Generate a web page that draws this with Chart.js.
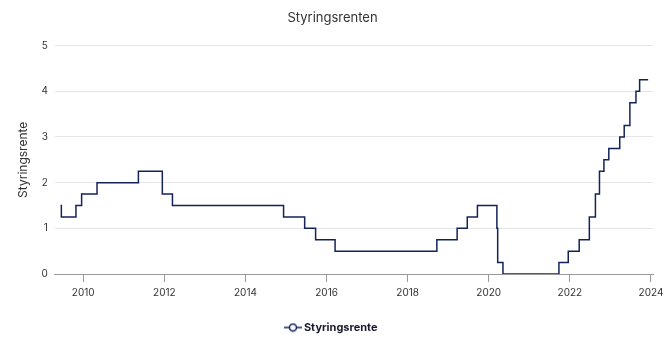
<!DOCTYPE html>
<html lang="no">
<head>
<meta charset="UTF-8">
<title>Styringsrenten</title>
<script src="https://cdn.jsdelivr.net/npm/chart.js"></script>
<style>
  html, body { margin: 0; padding: 0; background: #fff; }
  #wrap { width: 672px; height: 354px; }
</style>
</head>
<body>
<div id="wrap"><canvas id="rateChart"></canvas></div>
<script>
// datoer for rentebeslutninger (desimalår) og ny rente
const dates = [2009.44, 2009.46, 2009.82, 2009.96, 2010.34, 2011.36, 2011.95, 2012.20,
  2014.94, 2015.46, 2015.73, 2016.21, 2018.72, 2019.22, 2019.47, 2019.72,
  2020.20, 2020.22, 2020.35, 2021.73, 2021.96, 2022.23, 2022.48, 2022.63,
  2022.73, 2022.84, 2022.96, 2023.23, 2023.34, 2023.48, 2023.63, 2023.72, 2023.93];
const rates = [1.5, 1.25, 1.5, 1.75, 2.0, 2.25, 1.75, 1.5,
  1.25, 1.0, 0.75, 0.5, 0.75, 1.0, 1.25, 1.5,
  1.0, 0.25, 0, 0.25, 0.5, 0.75, 1.25, 1.75,
  2.25, 2.5, 2.75, 3.0, 3.25, 3.75, 4.0, 4.25, 4.25];
const xTicks = [2010, 2012, 2014, 2016, 2018, 2020, 2022, 2024];
const yTicks = [0, 1, 2, 3, 4, 5];

const lineColor = '#13235a';

// legendesymbol: strek med ring
const icon = document.createElement('canvas');
icon.width = 18; icon.height = 10;
const ic = icon.getContext('2d');
ic.strokeStyle = lineColor;
ic.lineWidth = 1.5;
ic.beginPath(); ic.moveTo(0, 5); ic.lineTo(18, 5); ic.stroke();
ic.fillStyle = '#fff';
ic.beginPath(); ic.arc(9, 5, 3.5, 0, Math.PI * 2); ic.fill(); ic.stroke();

new Chart(document.getElementById('rateChart'), {
  type: 'line',
  data: {
    datasets: [{
      label: 'Styringsrente',
      data: dates.map((d, i) => ({ x: d, y: rates[i] })),
      borderColor: lineColor,
      backgroundColor: '#fff',
      borderWidth: 1.5,
      stepped: true,
      pointRadius: 0,
      pointStyle: icon
    }]
  },
  options: {
    responsive: true,
    maintainAspectRatio: false,
    animation: false,
    layout: { padding: { left: 12, right: 19, top: 4, bottom: 11 } },
    scales: {
      x: {
        type: 'linear',
        min: 2009.3,
        max: 2024.05,
        grid: { display: true, drawOnChartArea: false, drawTicks: true, tickLength: 8, color: '#999' },
        border: { display: true, color: '#999' },
        afterBuildTicks: (scale) => { scale.ticks = xTicks.map(v => ({ value: v })); },
        afterFit: (scale) => { scale.height -= 2; },
        ticks: {
          callback: (v) => String(v),
          color: '#333',
          font: { family: 'Inter', size: 10 },
          padding: 5,
          maxRotation: 0
        }
      },
      y: {
        min: 0,
        max: 5,
        afterBuildTicks: (scale) => { scale.ticks = yTicks.map(v => ({ value: v })); },
        grid: { color: '#e6e6e6', drawTicks: false },
        border: { display: false },
        ticks: { color: '#333', font: { family: 'Inter', size: 10 }, padding: 7 },
        title: { display: true, text: 'Styringsrente', color: '#333', font: { family: 'Inter', size: 12 } }
      }
    },
    plugins: {
      title: {
        display: true,
        text: 'Styringsrenten',
        color: '#333',
        font: { family: 'Inter', size: 13, weight: 'normal' },
        padding: { top: 6, bottom: 20 }
      },
      legend: {
        position: 'bottom',
        labels: {
          usePointStyle: true,
          color: '#1a1a2e',
          font: { family: 'Inter', size: 11, weight: 'bold' },
          padding: 20
        }
      },
      tooltip: { enabled: false }
    }
  }
});
</script>
</body>
</html>
